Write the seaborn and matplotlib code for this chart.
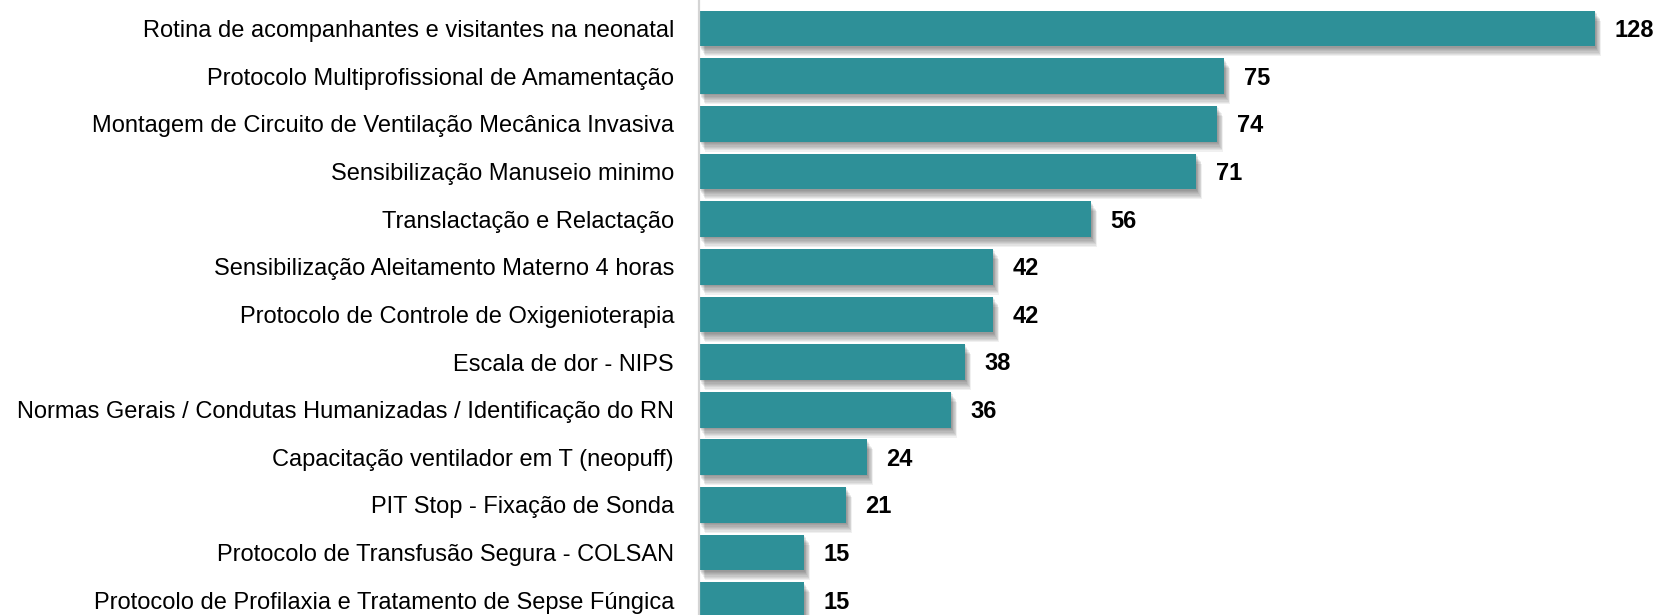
import matplotlib
matplotlib.use("Agg")
import matplotlib.pyplot as plt
import matplotlib.patheffects as pe
import seaborn as sns

categorias = [
    "Rotina de acompanhantes e visitantes na neonatal",
    "Protocolo Multiprofissional de Amamentação",
    "Montagem de Circuito de Ventilação Mecânica Invasiva",
    "Sensibilização Manuseio minimo",
    "Translactação e Relactação",
    "Sensibilização Aleitamento Materno 4 horas",
    "Protocolo de Controle de Oxigenioterapia",
    "Escala de dor - NIPS",
    "Normas Gerais / Condutas Humanizadas / Identificação do RN",
    "Capacitação ventilador em T (neopuff)",
    "PIT Stop - Fixação de Sonda",
    "Protocolo de Transfusão Segura - COLSAN",
    "Protocolo de Profilaxia e Tratamento de Sepse Fúngica",
]
participantes = [128, 75, 74, 71, 56, 42, 42, 38, 36, 24, 21, 15, 15]

TEAL = "#2E9098"

sns.set_theme(style="white")
plt.rcParams["font.family"] = ["Liberation Sans", "DejaVu Sans"]

fig = plt.figure(figsize=(16.6, 6.15), dpi=100)
ax = fig.add_axes([699 / 1660, 0.0, (1660 - 699) / 1660, 1.0])

sns.barplot(x=participantes, y=categorias, orient="h", color=TEAL,
            width=0.75, saturation=1, edgecolor="none", linewidth=0, ax=ax)

# soft, blurred drop shadow under each bar (stacked translucent copies)
shadow = []
for k in range(8, 0, -1):
    shadow.append(pe.SimplePatchShadow(offset=(0.55 * k, -0.9 * k),
                                       shadow_rgbFace="#000000", alpha=0.06))
shadow.append(pe.Normal())
for p in ax.patches:
    p.set_path_effects(shadow)

for i, v in enumerate(participantes):
    ax.text(v + 2.8, i + 0.04, f"{v}", va="center", ha="left",
            fontsize=17, fontweight="bold", color="black")

ax.set_xlim(0, (1660 - 699) / 7.0)
ax.set_ylim(12.31, -0.60)
ax.set_xlabel("")
ax.set_ylabel("")
ax.set_xticks([])
ax.tick_params(axis="y", length=0, pad=18, labelsize=17, labelcolor="black")

for s in ["top", "right", "bottom"]:
    ax.spines[s].set_visible(False)
ax.spines["left"].set_color("#d4d4d4")
ax.spines["left"].set_linewidth(1.6)

fig.savefig("out.png", dpi=100)
